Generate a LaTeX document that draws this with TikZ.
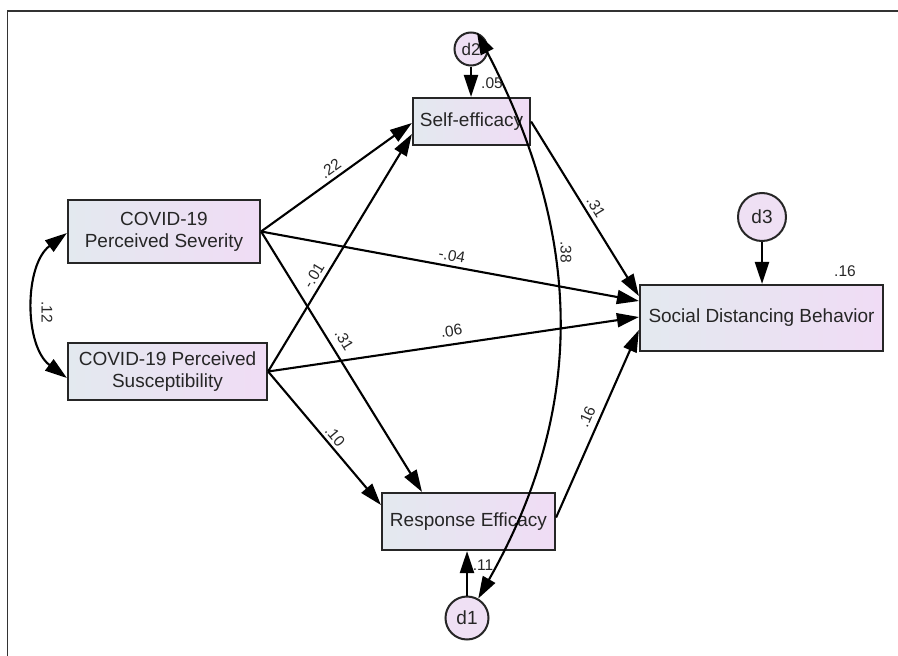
\documentclass[tikz,border=0pt]{standalone}
\usepackage{fontspec}
\setmainfont{Liberation Sans}
\usetikzlibrary{arrows.meta,calc}
\definecolor{txt}{HTML}{262626}
\definecolor{boxL}{HTML}{E3E9EF}
\definecolor{boxR}{HTML}{F0DCF5}
\definecolor{circ}{HTML}{EFE0F4}
\begin{document}
\begin{tikzpicture}[x=1pt,y=-1pt,
  var/.style={draw=black!85, line width=2.2pt, left color=boxL, right color=boxR, text=txt,
    inner sep=0pt, font=\fontsize{19}{22}\selectfont, align=center},
  err/.style={circle, draw=black!85, line width=2pt, fill=circ, text=txt, inner sep=0pt,
    font=\fontsize{19}{22}\selectfont},
  arr/.style={line width=2.1pt, -{Triangle[length=22pt,width=14pt]}},
  dbl/.style={line width=2.1pt, {Triangle[length=22pt,width=14pt]}-{Triangle[length=22pt,width=14pt]}},
  lbl/.style={text=txt, font=\fontsize{15.5}{17}\selectfont, inner sep=3pt}
]
\useasboundingbox (0,0) rectangle (898,656);
\draw[line width=1.5pt, black!80] (7.5,656) -- (7.5,11) -- (898,11);

% observed variables
\node[var, minimum width=192pt, minimum height=63pt] (sev) at (164,231.5) {COVID-19\\Perceived Severity};
\node[var, minimum width=199pt, minimum height=57pt] (sus) at (167.5,371.5) {COVID-19 Perceived\\Susceptibility};
\node[var, minimum width=117pt, minimum height=47pt] (se) at (471.5,121.5) {Self-efficacy};
\node[var, minimum width=173pt, minimum height=57pt] (re) at (468.5,521.5) {Response Efficacy};
\node[var, minimum width=243pt, minimum height=66pt] (sdb) at (761.5,318) {Social Distancing Behavior};

% errors
\node[err, minimum size=33pt, font=\fontsize{17}{20}\selectfont] (d2) at (471,49) {d2};
\node[err, minimum size=48pt] (d3) at (762,217) {d3};
\node[err, minimum size=43pt] (d1) at (467,618) {d1};

% paths
\draw[arr] (sev.east) -- node[lbl, pos=0.5, sloped, above=1pt] (l22) {.22} ($(se.west)+(0,1.5)$);
\draw[arr] (sus.east) -- node[lbl, pos=0.38, sloped, above=1pt] (l01) {-.01} ($(se.west)+(0,12.5)$);
\draw[arr] (sev.east) -- node[lbl, pos=0.445, sloped, above=4pt] (l31a) {.31} ($(re.north)+(-46.5,0)$);
\draw[arr] (sev.east) -- node[lbl, pos=0.5, sloped, above=1pt] (l04) {-.04} ($(sdb.west)+(0,-17)$);
\draw[arr] (sus.east) -- node[lbl, pos=0.5, sloped, above=4pt] (l06) {.06} ($(sdb.west)+(0,-1)$);
\draw[arr] (sus.east) -- node[lbl, pos=0.53, sloped, above=0pt] (l10) {.10} ($(re.west)+(0,-16.5)$);
\draw[arr] (se.east) -- node[lbl, pos=0.52, sloped, above=1pt] (l31b) {.31} ($(sdb.west)+(0,-22)$);
\draw[arr] ($(re.east)+(0,-4)$) -- node[lbl, pos=0.51, sloped, above=3pt] (l16) {.16} ($(sdb.west)+(0,12)$);

% disturbances
\draw[arr] (d2.south) -- (d2.south |- se.north);
\draw[arr] (d1.north) -- (d1.north |- re.south);
\draw[arr] (d3.south) -- (d3.south |- sdb.north);

% covariances
\draw[dbl] ($(sev.west)+(0,1.5)$) .. controls (24,265) and (24,346) .. ($(sus.west)+(0,6.5)$);
\draw[dbl] (d2.70) .. controls (585,240) and (585,410) .. (d1.60);

% numbers
\node[lbl] (r05) at (492,83) {.05};
\node[lbl] (r11) at (483,565) {.11};
\node[lbl] (r16) at (845,271) {.16};
\node[lbl, rotate=-90] (c12) at (47,312) {.12};
\node[lbl, rotate=-90] (c38) at (566,252) {.38};
\end{tikzpicture}
\end{document}
